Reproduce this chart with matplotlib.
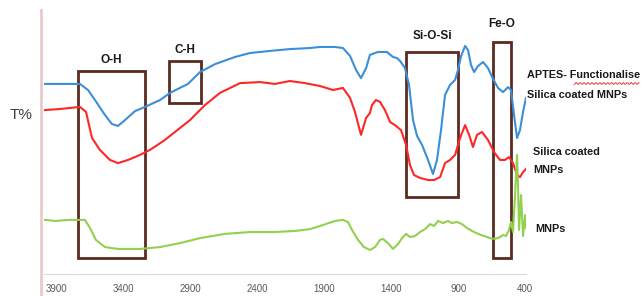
import numpy as np
import matplotlib
matplotlib.use('Agg')
import matplotlib.pyplot as plt
from matplotlib.patches import Rectangle
from matplotlib.lines import Line2D

# FTIR spectra (wavenumber cm-1, transmittance in arbitrary %)
wn_aptes = [3990, 3878, 3728, 3668, 3616, 3541, 3489, 3444, 3392, 3317, 3242, 3130, 3055,
            2981, 2921, 2891, 2831, 2719, 2570, 2458, 2308, 2159, 2009, 1934, 1822, 1763,
            1710, 1665, 1628, 1590, 1561, 1501, 1434, 1389, 1359, 1336, 1299, 1269, 1239,
            1209, 1172, 1127, 1090, 1060, 1030, 1000, 963, 925, 903, 880, 850, 828, 806,
            783, 753, 716, 679, 641, 604, 567, 529, 507, 484, 462, 440, 417, 395]
t_aptes = [72.0, 72.0, 72.0, 69.7, 65.9, 60.2, 56.8, 56.1, 58.3, 61.7, 63.3, 65.9, 68.6,
           70.5, 72.0, 73.5, 76.5, 79.5, 82.2, 83.7, 84.5, 85.2, 85.6, 86.0, 86.0, 85.6,
           82.6, 77.3, 74.2, 78.0, 83.0, 84.1, 84.1, 82.2, 81.8, 80.7, 78.0, 71.6, 58.3,
           52.3, 48.9, 43.2, 37.9, 43.2, 54.5, 67.8, 71.6, 73.5, 77.3, 82.6, 86.4, 84.8,
           79.2, 76.5, 78.8, 80.3, 78.0, 73.9, 70.5, 68.9, 70.8, 69.7, 60.2, 51.5, 54.5,
           61.4, 66.7]

wn_silica = [3990, 3878, 3728, 3683, 3638, 3579, 3504, 3444, 3369, 3280, 3205, 3093, 2981,
             2906, 2794, 2682, 2532, 2383, 2271, 2159, 2047, 1934, 1837, 1763, 1710, 1673,
             1628, 1590, 1561, 1546, 1516, 1486, 1449, 1411, 1366, 1329, 1291, 1262, 1232,
             1187, 1127, 1082, 1037, 1000, 963, 925, 888, 850, 820, 791, 761, 724, 679,
             634, 589, 552, 522, 492, 462, 440, 417, 395]
t_silica = [62.1, 62.5, 63.3, 61.4, 51.5, 47.0, 43.2, 42.0, 43.2, 45.1, 47.0, 50.8, 55.3,
            58.3, 64.0, 68.6, 72.3, 72.7, 72.0, 73.1, 72.3, 71.2, 69.7, 70.5, 66.7, 61.4,
            52.7, 59.1, 61.0, 64.0, 65.9, 65.2, 62.1, 57.6, 56.1, 54.5, 48.9, 41.3, 37.5,
            36.4, 35.6, 35.6, 36.7, 42.0, 43.2, 45.1, 51.5, 56.4, 52.7, 48.1, 52.7, 53.8,
            50.8, 46.2, 43.2, 43.2, 44.3, 42.0, 37.5, 36.7, 38.6, 39.8]

wn_mnp = [3990, 3915, 3803, 3691, 3653, 3609, 3541, 3444, 3280, 3130, 2981, 2831, 2644,
          2458, 2271, 2121, 2009, 1934, 1822, 1763, 1725, 1695, 1650, 1606, 1561, 1523,
          1486, 1464, 1426, 1389, 1351, 1321, 1291, 1262, 1224, 1187, 1150, 1112, 1082,
          1052, 1015, 978, 948, 910, 873, 835, 798, 753, 709, 664, 626, 589, 567, 544,
          522, 507, 492, 477, 462, 454, 447, 432, 417, 402, 395]
t_mnp = [20.5, 20.1, 20.5, 20.5, 17.4, 12.9, 10.2, 9.5, 9.5, 10.2, 11.7, 13.6, 15.2,
         15.9, 15.9, 16.3, 17.0, 18.2, 20.1, 20.5, 19.7, 16.7, 12.9, 10.2, 9.1, 10.2,
         12.9, 13.3, 11.7, 9.5, 11.4, 13.6, 15.2, 14.0, 14.4, 15.9, 17.0, 18.9, 18.2,
         20.1, 19.3, 20.1, 19.3, 19.7, 18.9, 17.4, 16.3, 15.2, 14.4, 13.6, 13.3, 14.0,
         14.8, 14.4, 16.7, 19.7, 15.9, 29.9, 45.1, 31.8, 16.7, 29.9, 14.4, 22.3, 17.4]

# highlighted bands: label, wavenumber range, T range, label height
regions = [('O-H', 3743, 3242, 6.1, 76.9, 81.1),
           ('C-H', 3063, 2824, 64.8, 80.7, 84.8),
           ('Si-O-Si', 1292, 903, 29.2, 84.1, 90.2),
           ('Fe-O', 641, 507, 6.1, 87.9, 94.7)]

ticks = [3900, 3400, 2900, 2400, 1900, 1400, 900, 400]

plt.rcParams['font.family'] = ['Liberation Sans', 'DejaVu Sans']

fig = plt.figure(figsize=(6.42, 2.96), dpi=100)
ax = fig.add_axes([0.0679, 0.0743, 0.7514, 0.8919])

ax.plot(wn_aptes, t_aptes, color='#3a8fd8', linewidth=1.5)
ax.plot(wn_silica, t_silica, color='#ff2626', linewidth=1.5)
ax.plot(wn_mnp, t_mnp, color='#92d050', linewidth=1.5)

box_color = '#5c2a1f'
for label, w0, w1, t0, t1, ty in regions:
    ax.add_patch(Rectangle((w1, t0), w0 - w1, t1 - t0, fill=False,
                           edgecolor=box_color, linewidth=2, clip_on=False))
    ax.text((w0 + w1) / 2, ty, label, ha='center', va='center',
            fontsize=8.5, fontweight='bold', color='#1a1a1a')

ax.set_xlim(4000, 395)
ax.set_ylim(0, 100)
ax.set_xticks(ticks)
ax.set_xticklabels([str(t) for t in ticks])
ax.set_yticks([])
ax.tick_params(axis='x', length=0, labelsize=7, labelcolor='#595959', pad=7)
for s in ['top', 'right', 'left']:
    ax.spines[s].set_visible(False)
ax.spines['bottom'].set_color('#d9d9d9')

# pinkish vertical rule on the left
fig.add_artist(Line2D([41 / 642, 41 / 642], [0, 1 - 10 / 296], color='#e8cccc', linewidth=2))

fig.text(21 / 642, 1 - 115 / 296, 'T%', ha='center', va='center', fontsize=11,
         color='#404040')

lab = dict(fontsize=7.8, fontweight='bold', color='#1a1a1a', va='center', ha='left')
fig.text(527 / 642, 1 - 75 / 296, 'APTES- Functionalise', **lab)
fig.text(527 / 642, 1 - 95 / 296, 'Silica coated MNPs', **lab)
fig.text(533 / 642, 1 - 152 / 296, 'Silica coated', **lab)
fig.text(533 / 642, 1 - 170 / 296, 'MNPs', **lab)
fig.text(535 / 642, 1 - 229 / 296, 'MNPs', **lab)

# spell-check squiggle under "Functionalise"
sx = np.linspace(574, 639, 60)
sy = 83.5 + 1.0 * np.sin(sx * 1.6)
fig.add_artist(Line2D(sx / 642, 1 - sy / 296, color='#e04040', linewidth=0.7))

fig.savefig('out.png', dpi=100)
